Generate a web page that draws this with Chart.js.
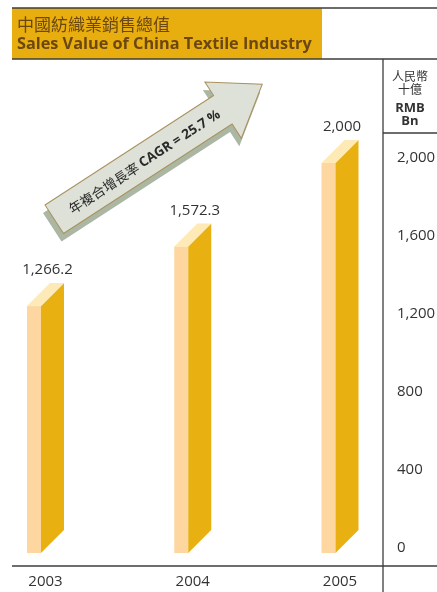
<!DOCTYPE html>
<html>
<head>
<meta charset="utf-8">
<script src="https://cdn.jsdelivr.net/npm/chart.js@4.4.0/dist/chart.umd.min.js"></script>
<style>
html, body { margin: 0; padding: 0; background: #fff; }
#wrap { position: relative; width: 437px; height: 592px; }
</style>
</head>
<body>
<div id="wrap"><canvas id="chart" width="437" height="592"></canvas></div>
<script>
const years = ['2003', '2004', '2005'];
const salesValues = [1266.2, 1572.3, 2000];
const valueLabels = ['1,266.2', '1,572.3', '2,000'];
const yTicks = [0, 400, 800, 1200, 1600, 2000];
const titleZh = '中國紡織業銷售總值';
const titleEn = 'Sales Value of China Textile Industry';
const unitZh = ['人民幣', '十億'];
const unitEn = ['RMB', 'Bn'];
const cagrZh = '年複合增長率 ';
const cagrEn = 'CAGR = 25.7 %';

const SANS = '"Open Sans", "Noto Sans", sans-serif';
const CJK = '"Noto Sans CJK TC", "Noto Sans CJK SC", sans-serif';
const TEXT = '#333333';
const LINE = '#3c3c3c';

const FRONT = '#FDD79F';
const SIDE = '#E9B012';
const TOPFACE = '#FEEAB6';
const DEPTH = 23;

function poly(ctx, pts) {
    ctx.beginPath();
    pts.forEach((p, i) => i ? ctx.lineTo(p[0], p[1]) : ctx.moveTo(p[0], p[1]));
    ctx.closePath();
}

function hline(ctx, x0, x1, y) {
    ctx.beginPath(); ctx.moveTo(x0, y); ctx.lineTo(x1, y); ctx.stroke();
}

function vline(ctx, x, y0, y1) {
    ctx.beginPath(); ctx.moveTo(x, y0); ctx.lineTo(x, y1); ctx.stroke();
}

// shrink a font until the text fits the width
function fitFont(ctx, text, width, weight, family, start) {
    let size = start;
    ctx.font = `${weight} ${size}px ${family}`;
    while (ctx.measureText(text).width > width && size > 8) {
        size -= 0.25;
        ctx.font = `${weight} ${size}px ${family}`;
    }
    return size;
}

function drawFrame(ctx) {
    ctx.save();
    // title box
    ctx.fillStyle = '#E8AE0F';
    ctx.fillRect(12, 8, 310, 51);
    ctx.fillStyle = '#6B4712';
    ctx.textBaseline = 'middle';
    ctx.textAlign = 'left';
    ctx.font = `17px ${CJK}`;
    ctx.fillText(titleZh, 17, 25);
    fitFont(ctx, titleEn, 299, 'bold', SANS, 17);
    ctx.fillText(titleEn, 17, 44);

    // rules
    ctx.strokeStyle = LINE;
    ctx.lineWidth = 1.3;
    hline(ctx, 12, 437, 8);
    hline(ctx, 12, 437, 59);
    hline(ctx, 12, 437, 566);
    hline(ctx, 383, 437, 133);
    vline(ctx, 383, 59, 592);

    // unit header
    ctx.fillStyle = TEXT;
    ctx.textAlign = 'center';
    ctx.font = `12px ${CJK}`;
    ctx.fillText(unitZh[0], 410, 76);
    ctx.fillText(unitZh[1], 410, 89);
    ctx.font = `bold 13px ${SANS}`;
    ctx.fillText(unitEn[0], 410, 108);
    ctx.fillText(unitEn[1], 410, 121);
    ctx.restore();
}

function drawArrow(ctx) {
    const pts = [[0, 0], [201, 0], [201, -16], [248, 17], [201, 51], [201, 34], [0, 34]];
    const ang = -33 * Math.PI / 180;
    ctx.save();
    // shadow
    ctx.save();
    ctx.translate(43, 213);
    ctx.rotate(ang);
    poly(ctx, pts);
    ctx.fillStyle = '#ABB7A3';
    ctx.fill();
    ctx.restore();
    // arrow
    ctx.translate(45, 205);
    ctx.rotate(ang);
    poly(ctx, pts);
    ctx.fillStyle = '#DDE1D7';
    ctx.fill();
    ctx.strokeStyle = '#A8925E';
    ctx.lineWidth = 1;
    ctx.stroke();

    // label
    const size = 13.5;
    ctx.font = `${size}px ${CJK}`;
    const wz = ctx.measureText(cagrZh).width;
    ctx.font = `bold ${size}px ${SANS}`;
    const we = ctx.measureText(cagrEn).width;
    const x0 = 107 - (wz + we) / 2;
    ctx.fillStyle = '#2a2a2a';
    ctx.textBaseline = 'middle';
    ctx.textAlign = 'left';
    ctx.font = `${size}px ${CJK}`;
    ctx.fillText(cagrZh, x0, 18);
    ctx.font = `bold ${size}px ${SANS}`;
    ctx.fillText(cagrEn, x0 + wz, 18);
    ctx.restore();
}

const decor = {
    id: 'decor',
    beforeDraw(chart) {
        drawFrame(chart.ctx);
    },
    afterDatasetsDraw(chart) {
        const ctx = chart.ctx;
        const meta = chart.getDatasetMeta(0);
        ctx.save();
        meta.data.forEach((bar, i) => {
            const cx = bar.x, yt = bar.y, yb = bar.base;
            const x0 = cx - 18.5, x1 = x0 + 14, x2 = x1 + DEPTH;
            ctx.fillStyle = FRONT;
            ctx.fillRect(x0, yt, 14, yb - yt);
            poly(ctx, [[x1, yt], [x2, yt - DEPTH], [x2, yb - DEPTH], [x1, yb]]);
            ctx.fillStyle = SIDE;
            ctx.fill();
            poly(ctx, [[x0, yt], [x1, yt], [x2, yt - DEPTH], [x0 + DEPTH, yt - DEPTH]]);
            ctx.fillStyle = TOPFACE;
            ctx.fill();

            ctx.fillStyle = TEXT;
            ctx.font = `15px ${SANS}`;
            ctx.textAlign = 'center';
            ctx.textBaseline = 'middle';
            ctx.fillText(valueLabels[i], cx + 2, yt - DEPTH - 13);
        });
        ctx.restore();
        drawArrow(ctx);
    }
};

new Chart(document.getElementById('chart'), {
    type: 'bar',
    data: {
        labels: years,
        datasets: [{
            data: salesValues,
            backgroundColor: 'rgba(0,0,0,0)',
            borderWidth: 0
        }]
    },
    options: {
        responsive: false,
        animation: false,
        devicePixelRatio: 1,
        layout: { padding: { left: 45.5, top: 85, right: 0, bottom: 0 } },
        plugins: {
            legend: { display: false },
            tooltip: { enabled: false }
        },
        scales: {
            x: {
                offset: false,
                grid: { display: false, drawTicks: false },
                border: { display: false },
                afterFit: s => { s.height = 39; s.paddingLeft = 0; s.paddingRight = 0; },
                ticks: {
                    padding: 20,
                    color: TEXT,
                    font: { family: SANS, size: 15 },
                    maxRotation: 0,
                    autoSkip: false
                }
            },
            y: {
                position: 'right',
                min: 0,
                max: 2400,
                afterBuildTicks: s => { s.ticks = yTicks.map(v => ({ value: v })); },
                afterFit: s => { s.width = 97; s.paddingTop = 0; s.paddingBottom = 0; },
                grid: { display: false, drawTicks: false },
                border: { display: false },
                ticks: {
                    padding: 57,
                    labelOffset: -5,
                    color: TEXT,
                    font: { family: SANS, size: 15 },
                    callback: v => v.toLocaleString('en-US')
                }
            }
        }
    },
    plugins: [decor]
});
</script>
</body>
</html>
